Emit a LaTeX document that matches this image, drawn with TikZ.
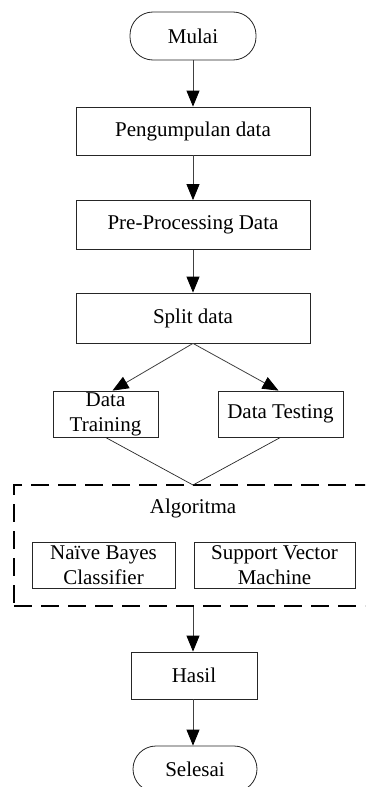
\documentclass[tikz,border=0pt]{standalone}
\usepackage{fontspec}
\setmainfont{Liberation Serif}
\usetikzlibrary{arrows.meta}
\tikzset{
  base/.style={draw=black!85, line width=0.8pt, inner sep=0pt, align=center,
    font=\fontsize{21}{25}\selectfont},
  procbox/.style={base, rectangle},
  termbox/.style={base, rectangle, rounded corners=23pt},
  arr/.style={draw=black!75, line width=0.8pt, -{Triangle[length=16pt,width=13pt,color=black]}},
  conn/.style={draw=black!85, line width=0.7pt},
  dashbox/.style={draw=black, line width=2.8pt, dash pattern=on 18pt off 9pt, rectangle, inner sep=0pt}
}
\begin{document}
\begin{tikzpicture}[x=1pt,y=-1pt]
\useasboundingbox (0,0) rectangle (365,787);
\clip (0,0) rectangle (365,787);
\node[termbox, minimum width=126pt, minimum height=48pt] (mulai) at (193,36) {Mulai};
\node[procbox, minimum width=234pt, minimum height=48pt] (kumpul) at (193,131) {Pengumpulan data};
\node[procbox, minimum width=234pt, minimum height=49pt] (pre) at (193,225) {Pre-Processing Data};
\node[procbox, minimum width=234pt, minimum height=50pt] (split) at (193,318) {Split data};
\node[procbox, minimum width=105pt, minimum height=46pt] (train) at (105.5,414) {Data\\Training};
\node[procbox, minimum width=125pt, minimum height=46pt] (test) at (280.5,414) {Data Testing};
\node[dashbox, minimum width=362pt, minimum height=121pt] (algo) at (195,545.5) {};
\node[font=\fontsize{21}{25}\selectfont, inner sep=0pt] (algolbl) at (193,508) {Algoritma};
\node[procbox, minimum width=143pt, minimum height=46pt] (nb) at (103.5,565) {Naïve Bayes\\Classifier};
\node[procbox, minimum width=161pt, minimum height=46pt] (svm) at (274.5,565) {Support Vector\\Machine};
\node[procbox, minimum width=126pt, minimum height=47pt] (hasil) at (194,675.5) {Hasil};
\node[termbox, minimum width=124pt, minimum height=46pt] (selesai) at (195,769) {Selesai};
\coordinate (join) at (193,485);
\draw[arr] (mulai) -- (kumpul);
\draw[arr] (kumpul) -- (pre);
\draw[arr] (pre) -- (split);
\draw[arr] (split.south) -- ([xshift=7pt]train.north);
\draw[arr] (split.south) -- ([xshift=-2pt]test.north);
\draw[conn] (train.south) -- (join);
\draw[conn] (test.south) -- (join);
\draw[arr] (algo.south -| join) -- (hasil.north -| join);
\draw[arr] (hasil.south -| join) -- (selesai.north -| join);
\end{tikzpicture}
\end{document}
